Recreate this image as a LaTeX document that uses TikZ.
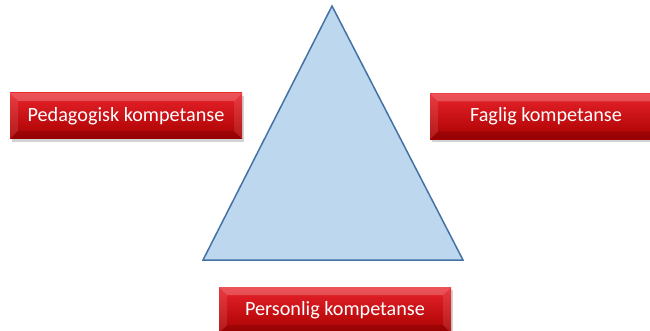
\documentclass[tikz,border=0pt]{standalone}
\usepackage{fontspec}
\setmainfont{Carlito}
\usetikzlibrary{shadows}
\definecolor{boxred}{RGB}{192,0,0}
\definecolor{boxtop}{RGB}{232,36,44}
\definecolor{trifill}{RGB}{189,215,238}
\definecolor{triline}{RGB}{68,114,164}

\begin{document}
\begin{tikzpicture}[x=1pt,y=-1pt,
    kbox/.style={minimum width=232pt,minimum height=46pt,inner sep=0pt,
                 top color=boxtop,middle color=boxred,bottom color=boxred!88!black,
                 text=white,font=\fontsize{20.2}{24}\selectfont,
                 drop shadow={shadow xshift=2pt,shadow yshift=-3pt,opacity=0.35},
                 path picture={
                   \fill[white,opacity=0.22] (path picture bounding box.north west)
                     -- (path picture bounding box.north east)
                     -- ([xshift=-8pt,yshift=-8pt]path picture bounding box.north east)
                     -- ([xshift=8pt,yshift=-8pt]path picture bounding box.north west) -- cycle;
                   \fill[white,opacity=0.1] (path picture bounding box.north west)
                     -- ([xshift=8pt,yshift=-8pt]path picture bounding box.north west)
                     -- ([xshift=8pt,yshift=8pt]path picture bounding box.south west)
                     -- (path picture bounding box.south west) -- cycle;
                   \fill[white,opacity=0.1] (path picture bounding box.north east)
                     -- ([xshift=-8pt,yshift=-8pt]path picture bounding box.north east)
                     -- ([xshift=-8pt,yshift=8pt]path picture bounding box.south east)
                     -- (path picture bounding box.south east) -- cycle;
                   \fill[black,opacity=0.12] (path picture bounding box.south west)
                     -- ([xshift=8pt,yshift=8pt]path picture bounding box.south west)
                     -- ([xshift=-8pt,yshift=8pt]path picture bounding box.south east)
                     -- (path picture bounding box.south east) -- cycle;}},
    tri/.style={fill=trifill,draw=triline,line width=1.5pt,line join=miter}
]
  \useasboundingbox (0,0) rectangle (650,331);
  \clip (0,0) rectangle (650,331);

  % Triangle
  \coordinate (apex) at (332,6);
  \coordinate (right) at (463,260);
  \coordinate (left) at (203,260);
  \draw[tri] (apex) -- (right) -- (left) -- cycle;

  % Boxes
  \node[kbox] (ped) at (126,116) {Pedagogisk kompetanse};
  \node[kbox] (fag) at (546,116.5) {Faglig kompetanse};
  \node[kbox] (pers) at (335,310) {Personlig kompetanse};
\end{tikzpicture}
\end{document}
